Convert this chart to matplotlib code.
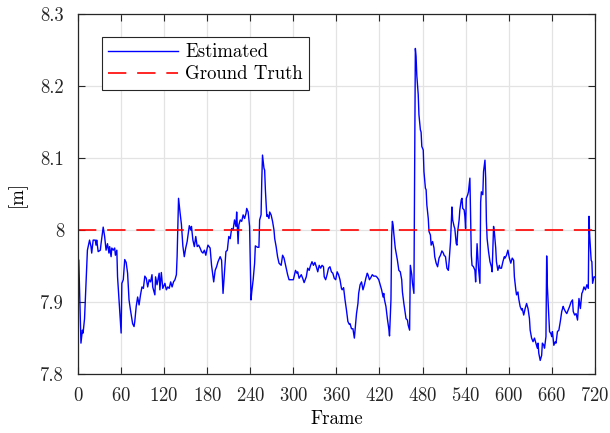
import matplotlib
matplotlib.use('Agg')
import matplotlib.pyplot as plt
import numpy as np
from matplotlib.ticker import FuncFormatter

# Estimated distance per frame
frames = [
    1, 4, 6, 7, 9, 11, 13, 16, 18, 19, 21, 24, 25, 26, 28, 31, 32, 35, 37, 39,
    41, 43, 44, 46, 47, 49, 51, 52, 54, 55, 57, 60, 61, 63, 65, 67, 69, 71, 73, 76,
    78, 79, 81, 83, 85, 87, 89, 91, 93, 95, 97, 99, 101, 103, 104, 107, 108, 110, 113, 114,
    116, 118, 121, 123, 125, 127, 129, 131, 133, 135, 137, 138, 140, 142, 144, 146, 148, 150, 152, 155,
    157, 158, 160, 162, 164, 166, 168, 170, 172, 174, 176, 178, 180, 181, 184, 186, 189, 191, 193, 195,
    198, 200, 202, 204, 206, 208, 210, 212, 214, 216, 218, 220, 221, 223, 224, 226, 228, 230, 232, 234,
    235, 237, 239, 240, 241, 242, 244, 246, 247, 250, 252, 253, 255, 256, 257, 259, 260, 261, 263, 264,
    266, 267, 269, 271, 273, 274, 276, 278, 280, 283, 285, 287, 290, 292, 294, 298, 300, 303, 305, 306,
    308, 311, 313, 315, 318, 320, 322, 324, 326, 328, 330, 332, 334, 336, 338, 340, 342, 343, 345, 347,
    349, 351, 353, 355, 357, 359, 361, 363, 365, 367, 368, 370, 372, 374, 376, 378, 379, 381, 383, 385,
    386, 388, 390, 391, 393, 395, 397, 399, 401, 403, 404, 406, 408, 410, 412, 415, 417, 419, 421, 423,
    425, 426, 427, 429, 431, 433, 434, 436, 437, 438, 439, 440, 442, 445, 447, 449, 451, 452, 454, 456,
    457, 459, 460, 462, 463, 465, 466, 468, 469, 470, 471, 472, 474, 475, 477, 478, 479, 481, 482, 484,
    485, 486, 488, 489, 491, 492, 494, 496, 497, 499, 501, 503, 505, 507, 509, 510, 512, 514, 516, 517,
    519, 521, 522, 524, 525, 527, 528, 529, 531, 532, 534, 535, 536, 538, 539, 540, 541, 543, 544, 546,
    547, 548, 549, 551, 553, 554, 556, 557, 558, 560, 561, 562, 564, 565, 567, 568, 569, 570, 572, 574,
    576, 577, 579, 580, 582, 583, 585, 587, 588, 590, 592, 594, 595, 597, 599, 601, 603, 605, 607, 608,
    610, 611, 613, 614, 616, 618, 619, 621, 623, 625, 627, 629, 630, 632, 634, 636, 638, 640, 641, 642,
    644, 646, 647, 649, 650, 652, 653, 654, 656, 657, 659, 660, 661, 663, 665, 666, 668, 670, 672, 674,
    676, 677, 679, 681, 683, 685, 687, 689, 690, 692, 694, 696, 698, 700, 702, 703, 705, 707, 709, 711,
    712, 713, 715, 716, 717, 719, 720,
]
estimated = [
    7.958, 7.843, 7.861, 7.857, 7.877, 7.926, 7.972, 7.986, 7.977, 7.968, 7.986, 7.986, 7.979, 7.986, 7.970, 7.972, 7.981, 8.004, 7.991, 7.972,
    7.981, 7.968, 7.977, 7.963, 7.975, 7.972, 7.975, 7.965, 7.972, 7.935, 7.903, 7.857, 7.926, 7.931, 7.959, 7.955, 7.940, 7.903, 7.889, 7.870,
    7.866, 7.873, 7.894, 7.907, 7.896, 7.910, 7.921, 7.919, 7.936, 7.933, 7.921, 7.931, 7.928, 7.938, 7.921, 7.910, 7.935, 7.924, 7.940, 7.917,
    7.941, 7.919, 7.926, 7.917, 7.921, 7.919, 7.928, 7.921, 7.928, 7.931, 7.938, 7.963, 8.044, 8.025, 8.008, 7.978, 7.963, 7.975, 7.984, 8.006,
    8.000, 8.005, 7.986, 7.977, 7.991, 7.977, 7.979, 7.975, 7.970, 7.968, 7.972, 7.965, 7.975, 7.979, 7.975, 7.951, 7.928, 7.944, 7.949, 7.956,
    7.963, 7.958, 7.912, 7.940, 7.970, 7.972, 7.991, 7.988, 8.002, 8.000, 8.014, 8.005, 8.025, 7.981, 8.007, 8.014, 8.012, 8.021, 8.016, 8.023,
    8.030, 8.025, 8.005, 7.954, 7.903, 7.914, 7.931, 7.954, 7.978, 7.976, 7.976, 8.014, 8.021, 8.069, 8.104, 8.086, 8.083, 8.056, 8.019, 8.021,
    8.016, 8.025, 8.021, 8.012, 8.000, 7.988, 7.977, 7.963, 7.954, 7.951, 7.965, 7.961, 7.947, 7.938, 7.931, 7.931, 7.931, 7.944, 7.940, 7.942,
    7.933, 7.938, 7.933, 7.927, 7.935, 7.947, 7.944, 7.951, 7.956, 7.951, 7.955, 7.949, 7.942, 7.951, 7.947, 7.951, 7.949, 7.935, 7.931, 7.938,
    7.947, 7.949, 7.942, 7.940, 7.933, 7.931, 7.942, 7.938, 7.931, 7.919, 7.917, 7.920, 7.903, 7.889, 7.873, 7.869, 7.870, 7.863, 7.863, 7.850,
    7.861, 7.884, 7.898, 7.912, 7.924, 7.928, 7.917, 7.924, 7.933, 7.940, 7.938, 7.931, 7.934, 7.938, 7.936, 7.936, 7.934, 7.931, 7.924, 7.917,
    7.907, 7.912, 7.903, 7.894, 7.877, 7.863, 7.853, 7.903, 7.991, 8.012, 8.007, 7.995, 7.975, 7.958, 7.944, 7.942, 7.931, 7.914, 7.898, 7.884,
    7.877, 7.875, 7.868, 7.861, 7.951, 7.938, 7.926, 7.912, 8.086, 8.252, 8.241, 8.215, 8.188, 8.160, 8.139, 8.136, 8.116, 8.111, 8.081, 8.058,
    8.056, 8.035, 8.016, 7.998, 7.993, 7.979, 7.984, 7.975, 7.963, 7.954, 7.949, 7.961, 7.965, 7.971, 7.968, 7.965, 7.963, 7.947, 7.944, 7.956,
    7.984, 8.032, 8.014, 8.005, 8.002, 7.981, 7.979, 7.998, 8.014, 8.028, 8.042, 8.044, 8.030, 8.028, 8.019, 8.002, 8.044, 8.049, 8.053, 8.072,
    8.021, 7.965, 7.951, 7.949, 7.944, 7.928, 7.981, 7.965, 7.947, 7.926, 8.039, 8.053, 8.049, 8.081, 8.097, 8.072, 8.012, 7.988, 7.970, 7.956,
    7.949, 7.942, 8.005, 7.998, 7.975, 7.956, 7.944, 7.951, 7.947, 7.947, 7.956, 7.963, 7.961, 7.965, 7.972, 7.961, 7.954, 7.961, 7.958, 7.935,
    7.917, 7.910, 7.914, 7.905, 7.894, 7.889, 7.891, 7.882, 7.891, 7.898, 7.891, 7.877, 7.861, 7.850, 7.845, 7.850, 7.843, 7.836, 7.843, 7.829,
    7.819, 7.826, 7.843, 7.840, 7.836, 7.852, 7.964, 7.921, 7.880, 7.859, 7.856, 7.852, 7.859, 7.840, 7.845, 7.843, 7.859, 7.861, 7.873, 7.887,
    7.894, 7.891, 7.887, 7.884, 7.889, 7.894, 7.900, 7.903, 7.887, 7.882, 7.884, 7.875, 7.905, 7.891, 7.912, 7.914, 7.921, 7.917, 7.924, 7.919,
    8.019, 7.991, 7.958, 7.956, 7.926, 7.935, 7.935,
]
ground_truth = 8.0

x_ticks = [0, 60, 120, 180, 240, 300, 360, 420, 480, 540, 600, 660, 720]
y_ticks = [7.8, 7.9, 8.0, 8.1, 8.2, 8.3]

plt.rcParams['font.family'] = ['cmr10', 'DejaVu Serif']
plt.rcParams['axes.formatter.use_mathtext'] = True
plt.rcParams['font.size'] = 13.5

fig = plt.figure(figsize=(6.1, 4.33), dpi=100)
ax = fig.add_axes([0.128, 0.136, 0.847, 0.832])

ax.plot(frames, estimated, color=(0, 0, 1), lw=1.0, label='Estimated')
ax.axhline(ground_truth, color=(1, 0, 0), lw=1.2, dashes=(11, 6.5), label='Ground Truth')

ax.set_xlim(0, 720)
ax.set_ylim(7.8, 8.3)
ax.set_xticks(x_ticks)
ax.set_yticks(y_ticks)
ax.yaxis.set_major_formatter(FuncFormatter(lambda v, p: f'{round(v, 1):g}'))

ax.grid(True, color='#e3e3e3', lw=0.9)
ax.set_axisbelow(True)
ax.tick_params(direction='in', length=5, width=0.8, top=True, right=True, colors='#262626', labelcolor='#262626')
ax.tick_params(axis='x', pad=9)
ax.tick_params(axis='y', pad=10)
for s in ax.spines.values():
    s.set_color('#262626')
    s.set_linewidth(0.9)

ax.set_xlabel('Frame', labelpad=4)
ax.set_ylabel('[m]', labelpad=10)

leg = ax.legend(loc='upper left', bbox_to_anchor=(0.046, 0.936), borderaxespad=0,
                fancybox=False, edgecolor='#262626', framealpha=1,
                handlelength=3.7, handletextpad=0.4, borderpad=0.35, labelspacing=0.2)
leg.get_frame().set_linewidth(0.8)

fig.savefig('out.png', dpi=100)
